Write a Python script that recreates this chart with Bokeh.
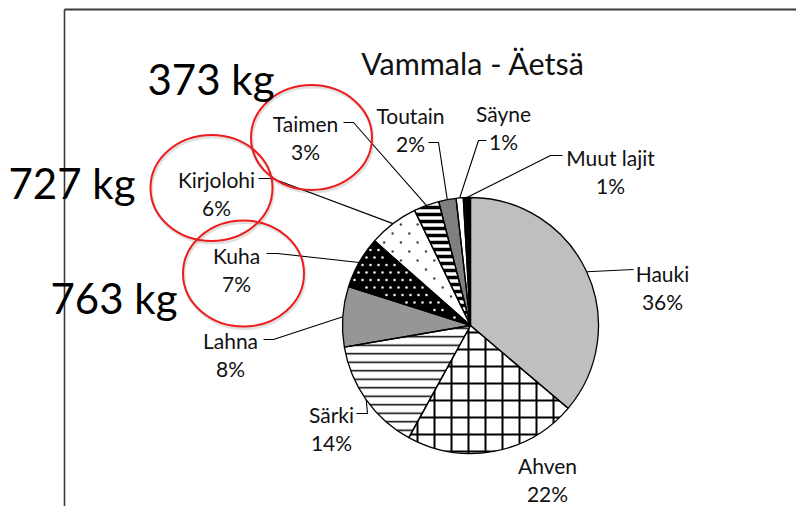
import math
from bokeh.plotting import figure
from bokeh.models import Range1d, ColumnDataSource
from bokeh.core.properties import value
from bokeh.embed import file_html
from bokeh.resources import INLINE

# ---------------- data ----------------
species = ["Hauki", "Ahven", "Särki", "Lahna", "Kuha", "Kirjolohi",
           "Taimen", "Toutain", "Säyne", "Muut lajit"]
shares = [36.2, 21.8, 14.3, 7.6, 6.6, 6.3, 3.2, 2.2, 0.9, 0.9]
title = "Vammala - Äetsä"
kg_notes = ["373 kg", "727 kg", "763 kg"]

# ---------------- styles / layout ----------------
fills = ["#bfbfbf", "white", "white", "#969696", "black", "white",
         "white", "#7f7f7f", "white", "black"]
hatches = [" ", "+", "-", " ", " ", " ", "-", " ", " ", " "]
hatch_scales = [10, 17, 8.5, 10, 10, 10, 7, 10, 10, 10]
hatch_weights = [1, 2, 1.5, 1, 1, 1, 3.5, 1, 1, 1]
# dotted textures: slice index -> (dx, dy, row offset, dot size, colour)
dot_textures = {4: (8.0, 7.5, 4.0, 2.6, "#f2f2f2"),
                5: (16.7, 9.0, 8.3, 2.4, "#444444")}

W, H = 796, 506
REF_H = 522
def Y(py):
    return REF_H - py

CX, CY, R = 470, 325, 128  # reference pixels

# label centers (x) and first-line baselines (reference px)
lab_x = [662, 547, 331, 230, 236, 216, 305, 410, 503, 610]
lab_y = [273, 465, 414, 340, 255, 179, 123, 115, 113, 157]
# leader polylines: label anchor, elbow (reference px); None = no leader
leaders = [((633, 269), (633, 269)), None, ((356, 413), (367, 413)),
           ((263, 339), (273, 339)), ((266, 253), (277, 253)),
           ((258, 178), (272, 178)), ((343, 122), (353, 122)),
           ((428, 142), (438, 142)), ((486, 140), (478, 140)),
           ((562, 155), (550, 155))]

p = figure(width=W, height=H, output_backend="svg", toolbar_location=None,
           x_range=Range1d(0, W), y_range=Range1d(Y(H), Y(0)),
           min_border=0)
p.axis.visible = False
p.grid.visible = False
p.outline_line_color = None
p.background_fill_color = "white"
p.border_fill_color = "white"

# frame lines
p.line([64, 64], [Y(9), Y(540)], line_color="#3a3a3a", line_width=1.6)
p.line([64, 830], [Y(9), Y(9)], line_color="#3a3a3a", line_width=2)

# wedges
total = sum(shares)
fr0, fr1, starts, ends, mids = [], [], [], [], []
cum = 0.0
for s in shares:
    a0 = cum / total
    cum += s
    a1 = cum / total
    fr0.append(a0)
    fr1.append(a1)
    starts.append(math.pi / 2 - 2 * math.pi * a0)
    ends.append(math.pi / 2 - 2 * math.pi * a1)
    mids.append(2 * math.pi * (a0 + a1) / 2)

for i in range(len(species)):
    p.wedge(x=CX, y=Y(CY), radius=R, start_angle=starts[i], end_angle=ends[i],
            direction="clock", fill_color=fills[i], line_color=None,
            hatch_pattern=hatches[i], hatch_color="black",
            hatch_scale=hatch_scales[i], hatch_weight=hatch_weights[i])

# dotted texture fill (a regular lattice clipped to the slice)
for i, (dx, dy, off, size, col) in dot_textures.items():
    t0, t1 = 2 * math.pi * fr0[i], 2 * math.pi * fr1[i]
    xs, ys = [], []
    row = 0
    yy = CY - R
    while yy <= CY + R:
        xx = CX - R + (off if row % 2 else 0)
        while xx <= CX + R:
            rx, ry = xx - CX, yy - CY
            rr = math.hypot(rx, ry)
            if 4 < rr < R - 2.5:
                th = math.atan2(rx, -ry) % (2 * math.pi)
                margin = 2.5 / rr
                if t0 + margin < th < t1 - margin:
                    xs.append(xx)
                    ys.append(Y(yy))
            xx += dx
        yy += dy
        row += 1
    p.scatter(xs, ys, marker="circle", size=size, fill_color=col,
              line_color=None)

# slice outlines on top
for i in range(len(species)):
    p.wedge(x=CX, y=Y(CY), radius=R, start_angle=starts[i], end_angle=ends[i],
            direction="clock", fill_color=None, line_color="black",
            line_width=1.3)

# leader lines
for i, ld in enumerate(leaders):
    if ld is None:
        continue
    ex = CX + R * math.sin(mids[i])
    ey = CY - R * math.cos(mids[i])
    (ax, ay), (bx, by) = ld
    p.line([ax, bx, ex], [Y(ay), Y(by), Y(ey)], line_color="black",
           line_width=1.1)

# labels
pct = [f"{round(s / total * 100)}%" for s in shares]
src = ColumnDataSource(dict(x=lab_x, y1=[Y(v) for v in lab_y],
                            y2=[Y(v + 28) for v in lab_y],
                            name=species, pct=pct))
common = dict(text_font=value("Lato"), text_font_size="21px",
              text_align="center", text_baseline="alphabetic",
              text_color="#111111")
p.text(x="x", y="y1", text="name", source=src, **common)
p.text(x="x", y="y2", text="pct", source=src, **common)

# title
p.text(x=[472.5], y=[Y(62)], text=[title], text_font=value("Lato"),
       text_font_size="30.5px", text_align="center",
       text_baseline="alphabetic", text_color="#111111")

# red ellipses (with faint shadow)
ell_x = [311, 211, 243]
ell_y = [137, 187.5, 273]
ell_w = [121, 122, 121]
ell_h = [105, 106, 106]
p.ellipse(x=[v + 1 for v in ell_x], y=[Y(v + 2) for v in ell_y], width=ell_w,
          height=ell_h, fill_color=None, line_color="black", line_alpha=0.12,
          line_width=3)
p.ellipse(x=ell_x, y=[Y(v) for v in ell_y], width=ell_w, height=ell_h,
          fill_color=None, line_color="#ee1c1c", line_width=2)

# kg notes
kg_x = [147, 8, 50]
kg_y = [78, 182, 297]
p.text(x=kg_x, y=[Y(v) for v in kg_y], text=kg_notes, text_font=value("Lato"),
       text_font_size="42px", text_align="left", text_baseline="alphabetic",
       text_color="black")

open("out.html", "w").write(file_html(p, INLINE))
